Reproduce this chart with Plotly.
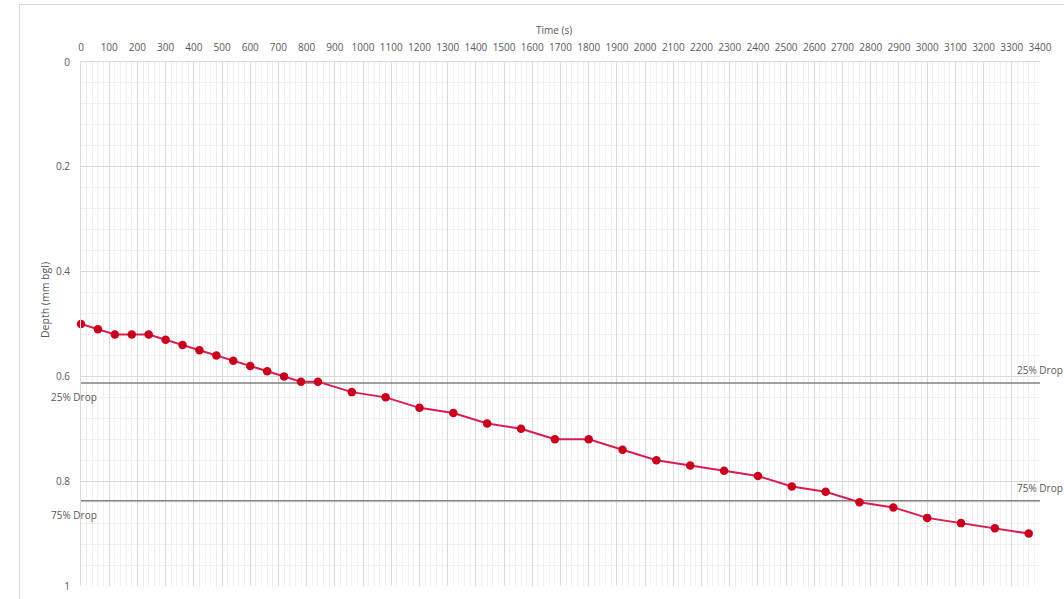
import plotly.graph_objects as go

# Soakage test readings
time_s = [0, 60, 120, 180, 240, 300, 360, 420, 480, 540, 600, 660, 720, 780, 840,
          960, 1080, 1200, 1320, 1440, 1560, 1680, 1800, 1920, 2040, 2160, 2280,
          2400, 2520, 2640, 2760, 2880, 3000, 3120, 3240, 3360]
depth_mm = [0.50, 0.51, 0.52, 0.52, 0.52, 0.53, 0.54, 0.55, 0.56, 0.57, 0.58, 0.59,
            0.60, 0.61, 0.61, 0.63, 0.64, 0.66, 0.67, 0.69, 0.70, 0.72, 0.72, 0.74,
            0.76, 0.77, 0.78, 0.79, 0.81, 0.82, 0.84, 0.85, 0.87, 0.88, 0.89, 0.90]

# Reference drop levels
drop_x = [0, 3400]
drop_25 = 0.6125
drop_75 = 0.8375
drop_labels = ["25% Drop", "75% Drop"]

W, H = 1064, 599
L, R, T, B = 81, 24, 62, 13
pw, ph = W - L - R, H - T - B

def px_x(p):
    return (p - L) / pw

def px_y(p):
    return 1 - (p - T) / ph

FONT = "Open Sans"
TXT = "#595959"

fig = go.Figure()

for lvl in (drop_25, drop_75):
    fig.add_trace(go.Scatter(
        x=drop_x, y=[lvl, lvl], mode="lines",
        line=dict(color="#808080", width=1.5),
        hoverinfo="skip", showlegend=False, cliponaxis=False))

fig.add_trace(go.Scatter(
    x=time_s, y=depth_mm, mode="lines+markers",
    line=dict(color="#D81E4F", width=2),
    marker=dict(color="#C8001E", size=8.5),
    showlegend=False, cliponaxis=False))

annotations = []
for lvl, lab in zip((drop_25, drop_75), drop_labels):
    annotations.append(dict(x=drop_x[1], y=lvl, xref="x", yref="y", text=lab,
                            showarrow=False, xanchor="center", yanchor="bottom",
                            yshift=4, font=dict(family=FONT, size=10, color=TXT)))
    annotations.append(dict(x=drop_x[0], y=lvl, xref="x", yref="y", text=lab,
                            showarrow=False, xanchor="center", yanchor="top",
                            xshift=-7, yshift=-5, font=dict(family=FONT, size=10, color=TXT)))

annotations.append(dict(x=px_x(554), y=px_y(30), xref="paper", yref="paper",
                        text="Time (s)", showarrow=False, xanchor="center", yanchor="middle",
                        font=dict(family=FONT, size=10, color=TXT)))
annotations.append(dict(x=px_x(45), y=px_y(300), xref="paper", yref="paper",
                        text="Depth (mm bgl)", showarrow=False, textangle=-90,
                        xanchor="center", yanchor="middle",
                        font=dict(family=FONT, size=10.5, color=TXT)))

fig.update_layout(
    width=W, height=H,
    margin=dict(l=L, r=R, t=T, b=B, autoexpand=False),
    paper_bgcolor="white", plot_bgcolor="white",
    font=dict(family=FONT, size=10, color=TXT),
    annotations=annotations,
    shapes=[dict(type="rect", xref="paper", yref="paper",
                 x0=px_x(19.5), x1=px_x(1080), y0=px_y(620), y1=px_y(4.5),
                 line=dict(color="#d9d9d9", width=1), layer="below")],
    xaxis=dict(range=[0, 3400], side="top", dtick=100, tick0=0, automargin=False,
               showgrid=True, gridcolor="#d9d9d9", gridwidth=1,
               minor=dict(dtick=20, showgrid=True, gridcolor="#f0f0f0", gridwidth=1),
               showline=True, linecolor="#d9d9d9", zeroline=False,
               ticks="outside", ticklen=6, tickcolor="rgba(0,0,0,0)",
               tickfont=dict(family=FONT, size=10, color=TXT)),
    yaxis=dict(range=[1, 0], dtick=0.2, tick0=0, automargin=False,
               showgrid=True, gridcolor="#d9d9d9", gridwidth=1,
               minor=dict(dtick=0.04, showgrid=True, gridcolor="#f0f0f0", gridwidth=1),
               showline=True, linecolor="#d9d9d9", zeroline=False,
               ticks="outside", ticklen=8, tickcolor="rgba(0,0,0,0)",
               tickformat="~g",
               tickfont=dict(family=FONT, size=10, color=TXT)),
)

fig.write_html("out.html")
